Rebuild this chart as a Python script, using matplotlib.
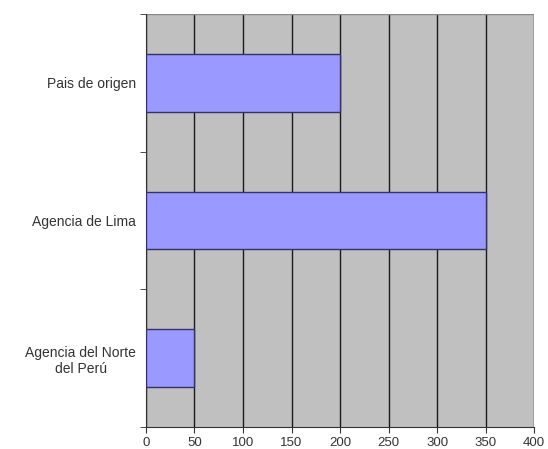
import numpy as np
import matplotlib.pyplot as plt

plt.rcParams['font.family'] = ['Liberation Sans', 'DejaVu Sans']

# data (bottom to top)
categories = ["Agencia del Norte\ndel Perú", "Agencia de Lima", "Pais de origen"]
values = [50, 350, 200]
xticks = [0, 50, 100, 150, 200, 250, 300, 350, 400]

fig = plt.figure(figsize=(5.48, 4.49), dpi=100)
ax = fig.add_axes([0.2664, 0.049, 0.7081, 0.9197])

ax.set_facecolor("#C0C0C0")
ypos = np.arange(len(categories))
ax.barh(ypos, values, height=0.42, color="#9999FF", edgecolor="#333366",
        linewidth=1.0, zorder=3)

ax.set_xlim(0, 400)
ax.set_ylim(-0.5, len(categories) - 0.5)
ax.set_xticks(xticks)
ax.set_xticklabels([str(v) for v in xticks], fontsize=9.5, color="#333333")
ax.xaxis.grid(True, color="#1a1a1a", linewidth=1.0, zorder=1)
ax.set_axisbelow(True)

ax.set_yticks(ypos)
ax.set_yticklabels(categories, fontsize=10, color="#333333",
                   ha="right", multialignment="center")
ax.tick_params(axis="y", which="major", length=0, pad=7)
ax.set_yticks(np.arange(-0.5, len(categories)), minor=True)
ax.tick_params(axis="y", which="minor", length=4, color="#333333")
ax.tick_params(axis="x", length=4, color="#333333", pad=3)

for s in ["top", "right"]:
    ax.spines[s].set_visible(False)
ax.spines["left"].set_color("#333333")
ax.spines["bottom"].set_color("#333333")
ax.axhline(len(categories) - 0.5, color="#888888", linewidth=1.0)

fig.savefig("out.png", dpi=100)
